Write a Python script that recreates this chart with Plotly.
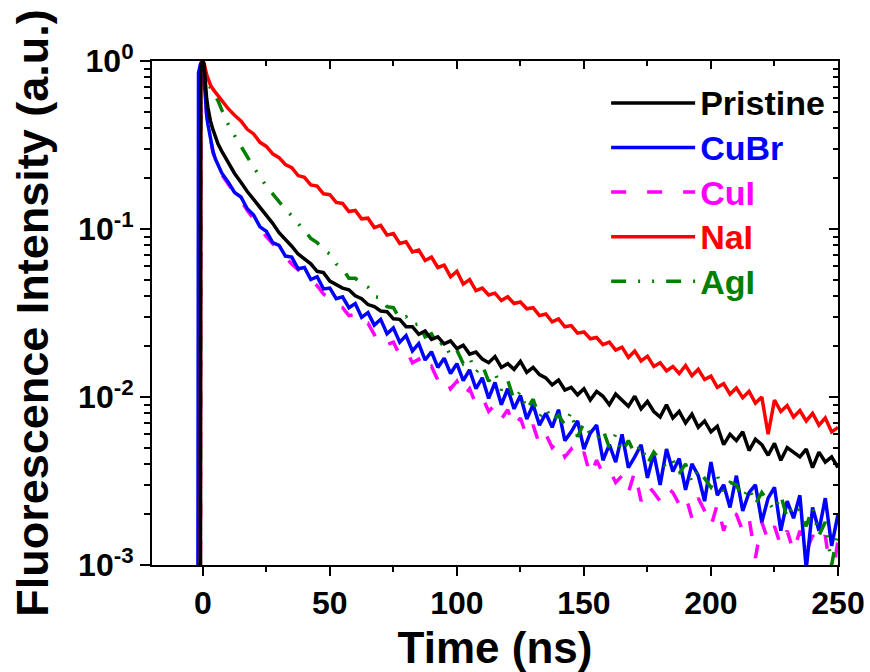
import plotly.graph_objects as go

# ---------------- data ----------------
early_t = [-2.0, -1.7, -1.0, -0.8, 0.0, 0.5, 1.0, 1.5, 2.0, 3.0, 4.0, 5.0, 6.0, 7.5]
grid_t = [10 + 2.5 * i for i in range(97)]          # 10 ... 250 ns sampling grid
time_ns = early_t + grid_t

pristine = [1e-4, 1e-4, 1e-4, 0.92, 1.0, 0.95, 0.68, 0.60, 0.53, 0.44, 0.39, 0.35, 0.32, 0.29,
            0.250, 0.214, 0.190, 0.167, 0.150, 0.135, 0.122, 0.108, 0.095, 0.087,
            0.079, 0.071, 0.066, 0.062, 0.056, 0.055, 0.049, 0.047, 0.0445, 0.0435,
            0.040, 0.0385, 0.0355, 0.0345, 0.0325, 0.0322, 0.0292, 0.0290, 0.0262, 0.0262,
            0.0236, 0.0247, 0.0220, 0.0228, 0.0207, 0.0216, 0.0194, 0.0203, 0.0180, 0.0185,
            0.0168, 0.0160, 0.0174, 0.0150, 0.0158, 0.0146, 0.0163, 0.0140, 0.0150, 0.0136,
            0.0130, 0.0118, 0.0126, 0.0110, 0.0114, 0.0103, 0.0112, 0.0096, 0.0108, 0.0101,
            0.0090, 0.0104, 0.0096, 0.0088, 0.0101, 0.0085, 0.0094, 0.0082, 0.0076, 0.0090,
            0.0075, 0.0082, 0.0070, 0.0079, 0.0066, 0.0072, 0.0062, 0.0067, 0.0052, 0.0060,
            0.0055, 0.0062, 0.0048, 0.0056, 0.0052, 0.0045, 0.0053, 0.0042, 0.0050, 0.0047,
            0.0044, 0.0049, 0.0038, 0.0047, 0.0041, 0.0044, 0.0038]

cubr = [1e-4, 0.85, 0.95, 0.97, 1.0, 0.75, 0.57, 0.48, 0.42, 0.34, 0.29, 0.26, 0.24, 0.215,
        0.190, 0.165, 0.155, 0.132, 0.121, 0.103, 0.097, 0.083, 0.080, 0.069,
        0.068, 0.058, 0.059, 0.050, 0.052, 0.044, 0.0445, 0.0385, 0.0395, 0.0340,
        0.0360, 0.0298, 0.0318, 0.0268, 0.0290, 0.0238, 0.0258, 0.0212, 0.0232, 0.0188,
        0.0208, 0.0166, 0.0186, 0.0150, 0.0170, 0.0138, 0.0158, 0.0125, 0.0145, 0.0112,
        0.0130, 0.0098, 0.0122, 0.0090, 0.0112, 0.0085, 0.0102, 0.0074, 0.0090, 0.0068,
        0.0080, 0.0066, 0.0084, 0.0055, 0.0062, 0.0072, 0.0049, 0.0061, 0.0068, 0.0042,
        0.0052, 0.0041, 0.0060, 0.0038, 0.0044, 0.0052, 0.0033, 0.0046, 0.0030, 0.0049,
        0.0036, 0.0043, 0.0028, 0.0040, 0.0034, 0.0024, 0.0041, 0.0026, 0.0030, 0.0022,
        0.0034, 0.0021, 0.0027, 0.0030, 0.0018, 0.0025, 0.0029, 0.0016, 0.0024, 0.0019,
        0.0026, 0.00095, 0.0022, 0.0016, 0.0025, 0.0013, 0.0020]

cui = [1e-4, 1e-4, 1e-4, 0.90, 1.0, 0.76, 0.57, 0.48, 0.42, 0.335, 0.285, 0.255, 0.235, 0.21,
       0.185, 0.163, 0.148, 0.129, 0.115, 0.101, 0.090, 0.082, 0.074, 0.068,
       0.062, 0.057, 0.053, 0.049, 0.046, 0.041, 0.0385, 0.0345, 0.034, 0.0305,
       0.031, 0.027, 0.0275, 0.0235, 0.0245, 0.0205, 0.0212, 0.0178, 0.0190, 0.0160,
       0.0168, 0.0140, 0.0152, 0.0126, 0.0135, 0.0112, 0.0124, 0.0100, 0.0112, 0.0091,
       0.0100, 0.0082, 0.0090, 0.0074, 0.0084, 0.0066, 0.0075, 0.0058, 0.0068, 0.0052,
       0.0060, 0.0050, 0.0055, 0.0044, 0.0049, 0.0042, 0.0047, 0.0034, 0.0042, 0.0035,
       0.0037, 0.0031, 0.0034, 0.0027, 0.0036, 0.0024, 0.0030, 0.0027, 0.0024, 0.0029,
       0.0027, 0.0023, 0.0026, 0.0019, 0.0025, 0.0021, 0.0017, 0.0023, 0.0016, 0.0021,
       0.0020, 0.0016, 0.0019, 0.0011, 0.0018, 0.0014, 0.0017, 0.0013, 0.0016, 0.0012,
       0.0016, 0.0012, 0.0015, 0.0013, 0.0015, 0.0008, 0.0014]

nai = [1e-4, 1e-4, 1e-4, 0.90, 1.0, 0.97, 0.88, 0.83, 0.79, 0.72, 0.68, 0.65, 0.62, 0.58,
       0.52, 0.475, 0.44, 0.392, 0.368, 0.328, 0.31, 0.28, 0.266, 0.242,
       0.232, 0.208, 0.203, 0.183, 0.18, 0.162, 0.16, 0.144, 0.142, 0.127,
       0.129, 0.115, 0.116, 0.102, 0.105, 0.092, 0.094, 0.082, 0.084, 0.073,
       0.075, 0.065, 0.068, 0.059, 0.061, 0.052, 0.056, 0.047, 0.050, 0.043,
       0.0445, 0.0405, 0.0415, 0.0375, 0.0395, 0.0360, 0.0368, 0.0335, 0.0340, 0.0305,
       0.0312, 0.0280, 0.0292, 0.0262, 0.0266, 0.0240, 0.0244, 0.0222, 0.0226, 0.0205,
       0.0212, 0.0190, 0.0198, 0.0172, 0.0188, 0.0164, 0.0175, 0.0152, 0.0160, 0.0143,
       0.0152, 0.0138, 0.0154, 0.0134, 0.0146, 0.0127, 0.0133, 0.0114, 0.0120, 0.0104,
       0.0113, 0.0099, 0.0108, 0.0092, 0.0100, 0.0060, 0.0096, 0.0082, 0.0089, 0.0076,
       0.0083, 0.0072, 0.0080, 0.0068, 0.0075, 0.0062, 0.0066]

agi = [1e-4, 1e-4, 1e-4, 0.90, 1.0, 0.92, 0.85, 0.80, 0.75, 0.69, 0.65, 0.62, 0.58, 0.51,
       0.42, 0.36, 0.31, 0.27, 0.233, 0.205, 0.18, 0.162, 0.145, 0.131,
       0.12, 0.108, 0.098, 0.088, 0.083, 0.075, 0.071, 0.062, 0.058, 0.051,
       0.051, 0.047, 0.045, 0.0395, 0.039, 0.0345, 0.034, 0.0292, 0.030, 0.0268,
       0.0272, 0.0228, 0.0238, 0.0202, 0.0212, 0.0176, 0.0190, 0.0158, 0.0172, 0.0140,
       0.0155, 0.0124, 0.0140, 0.0110, 0.0126, 0.0096, 0.0108, 0.0084, 0.0097, 0.0076,
       0.0086, 0.0072, 0.0078, 0.0068, 0.0082, 0.0058, 0.0070, 0.0060, 0.0056, 0.0064,
       0.0050, 0.0060, 0.0047, 0.0055, 0.0046, 0.0052, 0.0040, 0.0047, 0.0042, 0.0038,
       0.0042, 0.0035, 0.0040, 0.0031, 0.0037, 0.0033, 0.0029, 0.0034, 0.0027, 0.0031,
       0.0030, 0.0025, 0.0029, 0.0023, 0.0027, 0.0024, 0.0021, 0.0026, 0.0019, 0.0023,
       0.0021, 0.0017, 0.0022, 0.0015, 0.0018, 0.0010, 0.0016]

series_names = ["Pristine", "CuBr", "CuI", "NaI", "AgI"]
y_tickvals = [1e-3, 1e-2, 1e-1, 1e0]
y_ticktext = ["10<sup>-3</sup>", "10<sup>-2</sup>", "10<sup>-1</sup>", "10<sup>0</sup>"]

# ---------------- styles ----------------
FONT = "Liberation Sans, Arial, sans-serif"
styles = {
    "Pristine": dict(color="#000000", dash="solid", rank=1),
    "CuBr": dict(color="#0000FF", dash="solid", rank=2),
    "CuI": dict(color="#FF00FF", dash="15px,21px", rank=3),
    "NaI": dict(color="#FF0000", dash="solid", rank=4),
    "AgI": dict(color="#008000", dash="15px,12px,2px,12px,2px,12px", rank=5),
}
values = {"Pristine": pristine, "CuBr": cubr, "CuI": cui, "NaI": nai, "AgI": agi}
draw_order = ["CuI", "CuBr", "AgI", "NaI", "Pristine"]

fig = go.Figure()
for name in draw_order:
    st = styles[name]
    fig.add_trace(go.Scatter(
        x=time_ns, y=values[name], mode="lines",
        name=f"<span style='color:{st['color']};font-size:34px'>{name}</span>",
        legendrank=st["rank"],
        line=dict(color=st["color"], width=3.5, dash=st["dash"]),
    ))

# empty trace to realise the mirrored top / right axes
fig.add_trace(go.Scatter(x=[], y=[], xaxis="x2", yaxis="y2", showlegend=False, hoverinfo="skip"))

tickfont = dict(family=FONT, size=32, color="black", weight="bold")

fig.update_layout(
    width=870, height=672,
    margin=dict(l=152, r=32, t=61, b=107),
    paper_bgcolor="white", plot_bgcolor="white",
    showlegend=True,
    legend=dict(x=0.662, y=0.971, xanchor="left", yanchor="top",
                bgcolor="rgba(0,0,0,0)", borderwidth=0,
                font=dict(family=FONT, size=32, weight="bold"),
                itemwidth=84, tracegroupgap=0),
    xaxis=dict(range=[-20, 250], dtick=50, tick0=0, showgrid=False, zeroline=False,
               automargin=False,
               showline=True, linecolor="black", linewidth=2,
               ticks="outside", ticklen=9, tickwidth=2, tickcolor="black",
               minor=dict(ticks="outside", ticklen=5, tickwidth=2, tickcolor="black", dtick=25, tick0=0),
               tickfont=tickfont,
               title=dict(text="Time (ns)", font=dict(family=FONT, size=44, color="black", weight="bold"),
                          standoff=24)),
    yaxis=dict(type="log", range=[-3, 0], showgrid=False, zeroline=False,
               automargin=False,
               showline=True, linecolor="black", linewidth=2,
               tickvals=y_tickvals, ticktext=y_ticktext,
               ticks="outside", ticklen=10, tickwidth=2, tickcolor="black",
               minor=dict(ticks="outside", ticklen=6, tickwidth=2, tickcolor="black", dtick="D1"),
               tickfont=tickfont,
               title=dict(text="Fluorescence Intensity (a.u.)",
                          font=dict(family=FONT, size=45, color="black", weight="bold"),
                          standoff=15)),
    xaxis2=dict(overlaying="x", side="top", range=[-20, 250], matches="x", dtick=50, tick0=0,
                automargin=False,
                showgrid=False, zeroline=False, showline=True, linecolor="black", linewidth=2,
                ticks="inside", ticklen=8, tickwidth=2, tickcolor="black", showticklabels=False,
                minor=dict(ticks="inside", ticklen=5, tickwidth=2, tickcolor="black", dtick=25, tick0=0),
                anchor="y2"),
    yaxis2=dict(overlaying="y", side="right", type="log", range=[-3, 0],
                automargin=False,
                showgrid=False, zeroline=False, showline=True, linecolor="black", linewidth=2,
                tickvals=y_tickvals, ticks="inside", ticklen=9, tickwidth=2, tickcolor="black",
                showticklabels=False,
                minor=dict(ticks="inside", ticklen=5, tickwidth=2, tickcolor="black", dtick="D1"),
                anchor="x2"),
)

fig.write_html("out.html")
